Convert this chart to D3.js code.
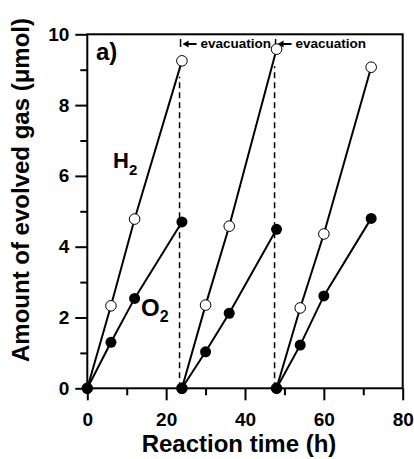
<!DOCTYPE html>
<html><head><meta charset="utf-8">
<script src="https://cdn.jsdelivr.net/npm/d3@7/dist/d3.min.js"></script>
<style>html,body{margin:0;padding:0;background:#fff;} svg{display:block;font-family:"Liberation Sans",Arial,sans-serif;}</style>
</head><body><div id="chart"></div>
<script>
// ---- data ----
const cycleTimes = [[0, 6, 12, 24], [24, 30, 36, 48], [48, 54, 60, 72]];
const h2Values = [[0, 2.33, 4.78, 9.25], [0, 2.35, 4.58, 9.58], [0, 2.27, 4.36, 9.07]];
const o2Values = [[0, 1.30, 2.54, 4.70], [0, 1.03, 2.12, 4.49], [0, 1.22, 2.61, 4.80]];
const evacuationTimes = [23.4, 47.5];
const evacuationDashTop = [8.8, 9.1];
const xTicks = [0, 20, 40, 60, 80];
const xMinor = [10, 30, 50, 70];
const yTicks = [0, 2, 4, 6, 8, 10];
const yMinor = [1, 3, 5, 7, 9];

const W = 414, H = 459;
const m = {left: 87.3, right: 402.7, top: 34.3, bottom: 388.3};
const svg = d3.select("#chart").append("svg").attr("width", W).attr("height", H);
const x = d3.scaleLinear().domain([0, 80]).range([m.left, m.right]);
const y = d3.scaleLinear().domain([0, 10]).range([m.bottom, m.top]);

// axes
const gx = svg.append("g").attr("transform", `translate(0,${m.bottom})`)
  .call(d3.axisBottom(x).tickValues(xTicks).tickSize(12).tickPadding(8).tickFormat(d3.format("d")));
svg.append("g").attr("transform", `translate(0,${m.bottom})`)
  .call(d3.axisBottom(x).tickValues(xMinor).tickSize(7).tickFormat(""));
const gy = svg.append("g").attr("transform", `translate(${m.left},0)`)
  .call(d3.axisLeft(y).tickValues(yTicks).tickSize(12).tickPadding(6).tickFormat(d3.format("d")));
svg.append("g").attr("transform", `translate(${m.left},0)`)
  .call(d3.axisLeft(y).tickValues(yMinor).tickSize(7).tickFormat(""));
svg.selectAll(".domain").remove();
svg.selectAll(".tick line").attr("stroke", "#000").attr("stroke-width", 2);
svg.selectAll(".tick text").attr("fill", "#000").style("font-size", "19px").style("font-weight", "bold")
  .style("font-family", "'Liberation Sans',Arial,sans-serif");
gx.selectAll(".tick text").attr("dy", "0.95em");

// frame
svg.append("rect").attr("x", m.left).attr("y", m.top).attr("width", m.right - m.left).attr("height", m.bottom - m.top)
  .attr("fill", "none").attr("stroke", "#000").attr("stroke-width", 2);

// dashed evacuation lines
evacuationTimes.forEach((t, i) => {
  svg.append("line").attr("x1", x(t)).attr("x2", x(t)).attr("y1", y(0)).attr("y2", y(evacuationDashTop[i]))
    .attr("stroke", "#000").attr("stroke-width", 1.5).attr("stroke-dasharray", "6,4");
  const bx = x(t) + 1;
  svg.append("line").attr("x1", bx).attr("x2", bx).attr("y1", 39).attr("y2", 47)
    .attr("stroke", "#000").attr("stroke-width", 1.5);
  svg.append("line").attr("x1", bx + 6).attr("x2", bx + 16).attr("y1", 44).attr("y2", 44)
    .attr("stroke", "#000").attr("stroke-width", 2);
  svg.append("path").attr("d", `M${bx + 2},44 L${bx + 8},40.5 L${bx + 8},47.5 Z`).attr("fill", "#000");
  svg.append("text").attr("x", bx + 20).attr("y", 48).text("evacuation")
    .style("font-size", "13.5px").style("font-weight", "bold").attr("fill", "#000");
});

const line = d3.line().x(d => x(d[0])).y(d => y(d[1]));
cycleTimes.forEach((ts, i) => {
  const h = ts.map((t, j) => [t, h2Values[i][j]]);
  const o = ts.map((t, j) => [t, o2Values[i][j]]);
  svg.append("path").attr("d", line(h)).attr("fill", "none").attr("stroke", "#000").attr("stroke-width", 2);
  svg.append("path").attr("d", line(o)).attr("fill", "none").attr("stroke", "#000").attr("stroke-width", 2);
  svg.selectAll(null).data(h).enter().append("circle")
    .attr("cx", d => x(d[0])).attr("cy", d => y(d[1])).attr("r", 5.3)
    .attr("fill", "#fff").attr("stroke", "#000").attr("stroke-width", 1);
  svg.selectAll(null).data(o).enter().append("circle")
    .attr("cx", d => x(d[0])).attr("cy", d => y(d[1])).attr("r", 5.5).attr("fill", "#000");
});

// labels
svg.append("text").attr("x", 96).attr("y", 60).text("a)").style("font-size", "24px").style("font-weight", "bold");
const h2t = svg.append("text").attr("x", 113).attr("y", 168).style("font-size", "22px").style("font-weight", "bold");
h2t.append("tspan").text("H");
h2t.append("tspan").attr("dy", 7).style("font-size", "15px").text("2");
const o2t = svg.append("text").attr("x", 141).attr("y", 316).style("font-size", "24px").style("font-weight", "bold");
o2t.append("tspan").text("O");
o2t.append("tspan").attr("dy", 6).style("font-size", "16px").text("2");

svg.append("text").attr("x", 239).attr("y", 452).attr("text-anchor", "middle")
  .style("font-size", "24px").style("font-weight", "bold").text("Reaction time (h)");
svg.append("text").attr("transform", "translate(29,190) rotate(-90)").attr("text-anchor", "middle")
  .style("font-size", "24px").style("font-weight", "bold").text("Amount of evolved gas (\u03bcmol)");
</script></body></html>
